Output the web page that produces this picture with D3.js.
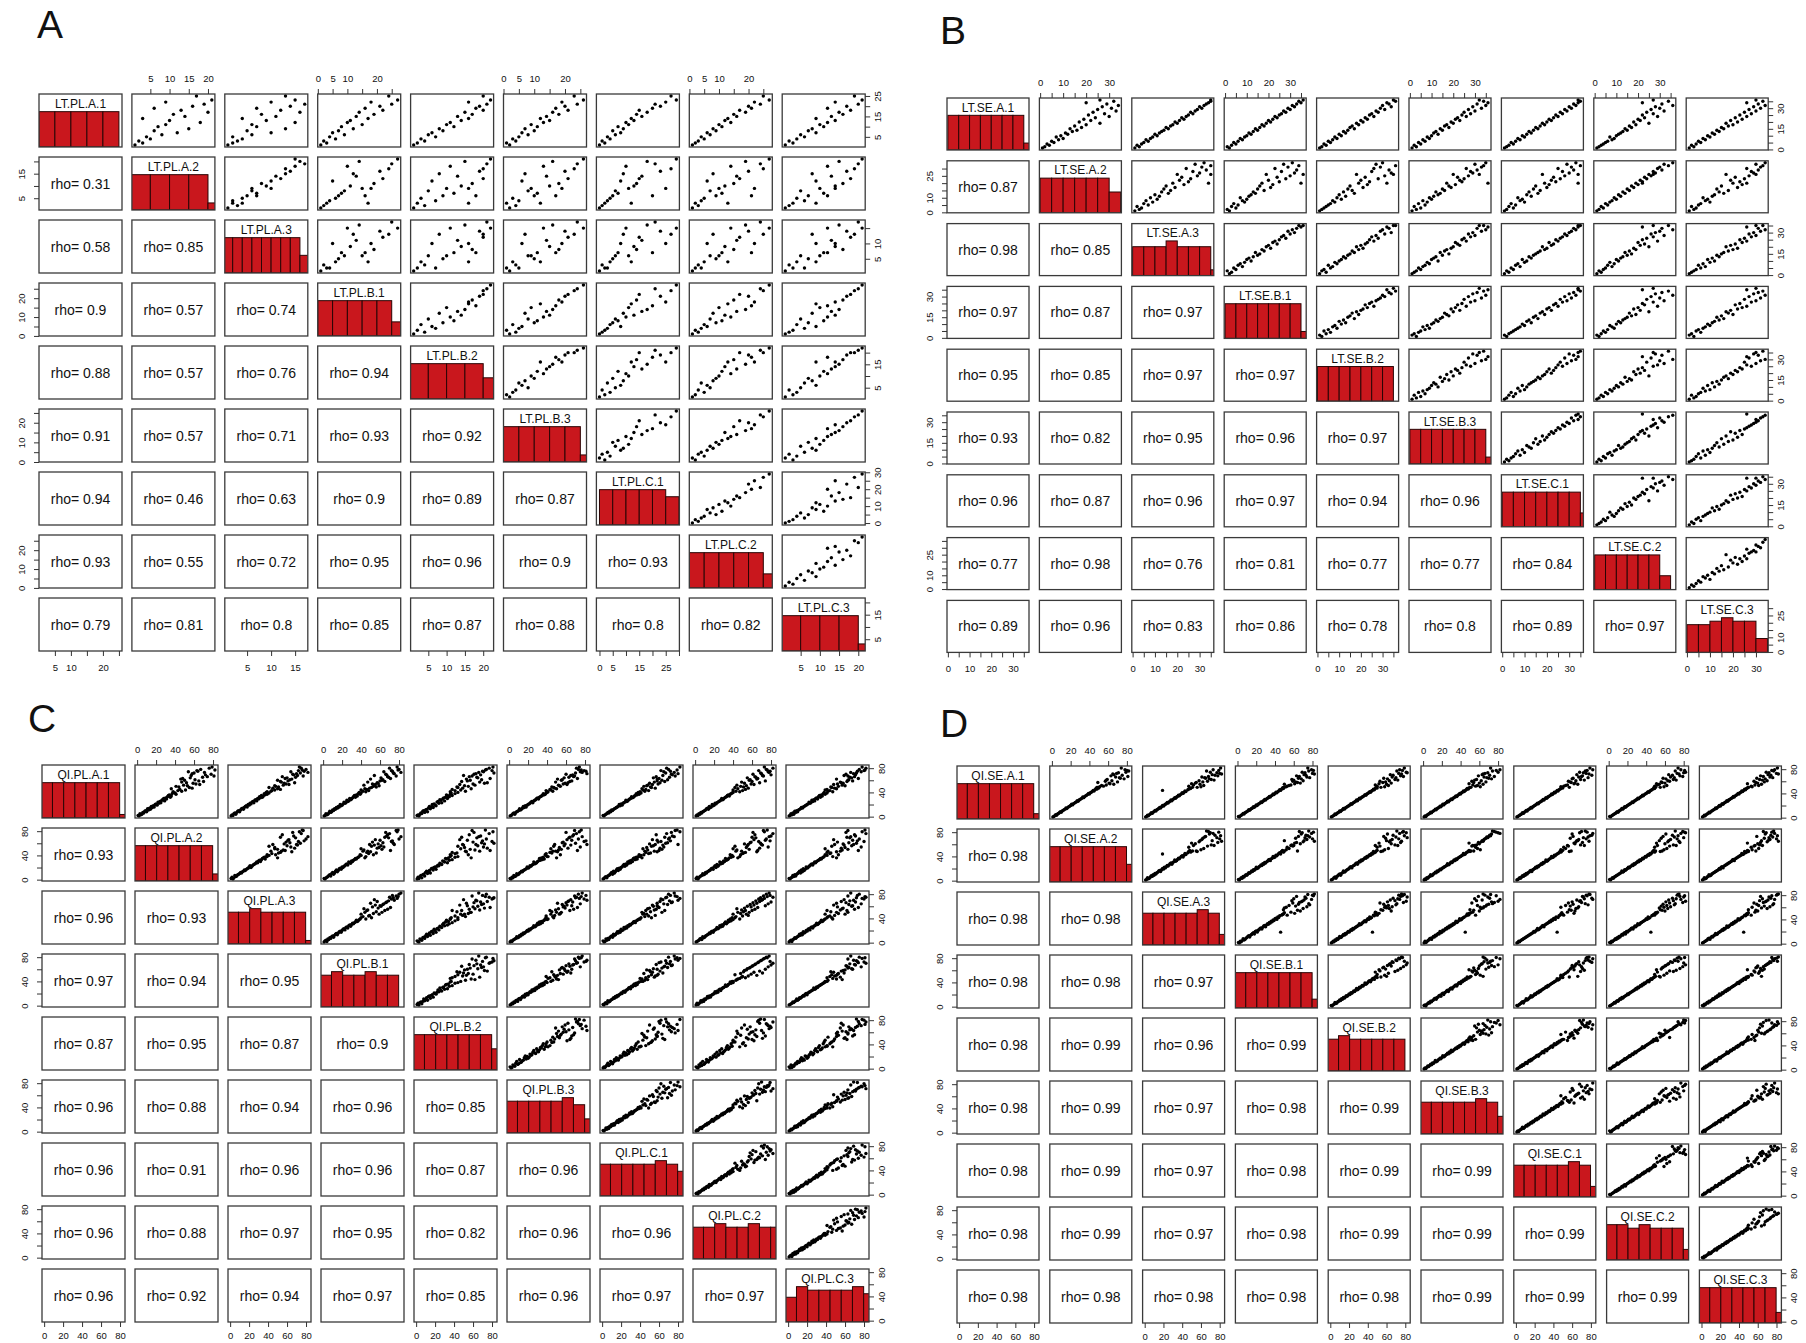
<!DOCTYPE html>
<html>
<head>
<meta charset="utf-8">
<script src="https://cdn.jsdelivr.net/npm/d3@7"></script>
<style>
  body { margin: 0; background: #fff; }
  svg text { font-family: "Liberation Sans", Arial, Helvetica, sans-serif; fill: #111; }
</style>
</head>
<body>
<svg id="chart" width="1806" height="1343"></svg>
<script>
// ---------------- Panel A : LT.PL ----------------
const namesA = ["LT.PL.A.1","LT.PL.A.2","LT.PL.A.3","LT.PL.B.1","LT.PL.B.2","LT.PL.B.3","LT.PL.C.1","LT.PL.C.2","LT.PL.C.3"];
const A1 = [1,2,3,4,5,6,7,8,9,10,11,12,13,14,15,16,17,18,19,20,21,22,23,25];
const A2 = [1,3,2,5,4,8,12,6,15,7,9,18,10,3,14,11,20,13,6,16,19,9,21,17];
const A3 = [1,2,3,4,2,6,10,5,13,7,6,15,9,4,11,8,16,12,7,14,17,10,15,13];
const A4 = [1,3,2,6,4,9,5,7,12,8,15,10,11,17,13,19,14,22,16,21,25,18,27,24];
const A5 = [1,2,4,3,7,5,6,9,8,12,10,11,14,16,13,17,15,20,18,19,21,16,22,20];
const A6 = [2,1,4,3,5,8,6,10,7,11,9,13,15,12,14,18,16,21,17,20,24,19,26,23];
const A7 = [0,2,1,4,3,6,8,5,9,7,11,10,13,12,16,14,18,15,20,23,21,25,29,27];
const A8 = [1,2,3,5,4,7,6,9,8,11,10,14,12,13,16,15,19,17,21,20,24,22,27,25];
const A9 = [1,3,2,4,6,5,9,7,8,11,10,12,14,9,13,16,15,18,12,17,20,14,21,19];
const rhoA = [
  [0.31],
  [0.58,0.85],
  [0.9,0.57,0.74],
  [0.88,0.57,0.76,0.94],
  [0.91,0.57,0.71,0.93,0.92],
  [0.94,0.46,0.63,0.9,0.89,0.87],
  [0.93,0.55,0.72,0.95,0.96,0.9,0.93],
  [0.79,0.81,0.8,0.85,0.87,0.88,0.8,0.82]
];
const ticksA = [[5,10,15,20,25],[5,10,15,20],[5,10,15],[0,5,10,15,20,25],[5,10,15,20],[0,5,10,15,20,25],[0,5,10,15,20,25,30],[0,5,10,15,20,25],[5,10,15,20]];
const hLabA = [[5,10,20],[5,10,15,20],[5,10,15],[0,5,10,20],[5,10,15,20],[0,5,10,20],[0,5,15,25],[0,5,10,20],[5,10,15,20]];
const vLabA = [[5,15,25],[5,15],[5,10],[0,10,20],[5,15],[0,10,20],[0,10,20,30],[0,10,20],[5,15]];
const histStartA = [0,0,0,0,0,0,0,0,0];
const histWidthA = [5,5,2,5,5,5,5,5,5];
const histCountsA = [[5,5,5,5,5],[5,5,5,5,1],[2,2,2,2,2,2,2,2,1],[5,5,5,5,5,2],[5,5,5,5,3],[5,5,5,5,5,1],[5,5,5,5,5,4],[5,5,5,5,5,2],[5,5,5,5,1]];

// ---------------- Panel B : LT.SE ----------------
const namesB = ["LT.SE.A.1","LT.SE.A.2","LT.SE.A.3","LT.SE.B.1","LT.SE.B.2","LT.SE.B.3","LT.SE.C.1","LT.SE.C.2","LT.SE.C.3"];
const B1 = [1,2,3,4,5,6,7,8,9,10,11,12,13,14,15,16,17,18,19,20,21,22,23,24,25,26,27,28,29,30,31,32,33,34,35,36];
const B2 = [1,2,4,3,6,5,8,10,7,9,12,11,14,16,13,18,15,20,26,17,22,19,24,30,21,28,23,33,25,31,27,34,29,20,32,26];
const B3 = [1,3,2,4,5,7,6,8,9,11,10,12,13,14,16,15,17,18,20,19,21,23,22,24,25,27,26,28,29,31,30,32,33,34,35,35];
const B4 = [2,1,3,5,4,6,8,7,9,10,12,11,13,15,14,16,18,17,19,21,20,22,24,23,25,26,28,27,30,29,32,31,33,35,34,36];
const B5 = [1,2,4,3,6,5,7,9,8,11,10,13,12,14,17,15,16,19,18,21,20,23,22,26,24,25,28,27,31,29,34,30,33,32,36,35];
const B6 = [1,3,2,5,4,7,6,9,8,10,13,11,12,15,14,18,16,17,20,19,23,21,22,26,24,28,25,30,27,33,29,35,31,36,34,32];
const B7 = [1,2,3,5,4,6,8,7,10,9,11,13,12,14,16,15,17,19,18,20,22,21,23,25,24,27,26,29,28,31,30,33,32,34,35,34];
const B8 = [1,2,3,4,5,6,8,9,7,10,11,12,13,15,14,17,16,19,25,18,21,20,23,29,22,27,24,32,26,30,28,36,31,22,34,27];
const B9 = [1,3,2,4,6,5,8,7,10,9,12,11,14,13,16,15,18,20,17,22,19,24,21,26,23,28,25,30,27,32,29,34,31,26,33,30];
const rhoB = [
  [0.87],
  [0.98,0.85],
  [0.97,0.87,0.97],
  [0.95,0.85,0.97,0.97],
  [0.93,0.82,0.95,0.96,0.97],
  [0.96,0.87,0.96,0.97,0.94,0.96],
  [0.77,0.98,0.76,0.81,0.77,0.77,0.84],
  [0.89,0.96,0.83,0.86,0.78,0.8,0.89,0.97]
];
const t35 = [0,5,10,15,20,25,30,35];
const t30 = [0,5,10,15,20,25,30];
const ticksB = [t35,t30,t35,t35,t35,t35,t35,t35,t30];
const hLabB = [[0,10,20,30],[0,10,20,30],[0,10,20,30],[0,10,20,30],[0,10,20,30],[0,10,20,30],[0,10,20,30],[0,10,20,30],[0,10,20,30]];
const vLabB = [[0,15,30],[0,10,25],[0,15,30],[0,15,30],[0,15,30],[0,15,30],[0,15,30],[0,10,25],[0,10,25]];
const histStartB = [0,0,0,0,0,0,0,0,0];
const histWidthB = [5,5,5,5,5,5,5,5,5];
const histCountsB = [[5,5,5,5,5,5,5,1],[5,5,5,5,5,5,3],[5,5,5,6,5,5,5,1],[5,5,5,5,5,5,5,1],[5,5,5,5,5,5,5],[5,5,5,5,5,5,5,1],[5,5,5,5,5,5,5,2],[5,5,5,5,5,5,2],[8,8,9,10,9,9,4]];

// ---------------- Panel C : QI.PL ----------------
const namesC = ["QI.PL.A.1","QI.PL.A.2","QI.PL.A.3","QI.PL.B.1","QI.PL.B.2","QI.PL.B.3","QI.PL.C.1","QI.PL.C.2","QI.PL.C.3"];
const C1 = [1,2,3,5,4,6,7,9,8,10, 11,13,12,14,15,17,16,18,20,19, 21,22,24,23,25,27,26,28,30,29, 31,33,32,35,34,36,38,37,40,39, 42,41,44,43,46,48,45,50,47,52, 49,54,51,57,53,60,55,62,58,64, 56,66,61,68,63,70,59,72,65,74, 67,76,69,78,71,80,73,82,75,77];
const C2 = [2,1,4,3,5,7,6,8,10,9, 12,11,14,13,16,15,18,17,19,21, 20,23,22,25,24,26,29,27,28,31, 30,32,35,33,36,34,37,41,38,40, 47,38,51,43,36,55,45,41,58,49, 44,62,53,47,66,50,59,46,70,56, 52,74,61,57,48,78,65,60,69,54, 81,63,72,67,58,76,71,79,64,82];
const C3 = [1,3,2,4,6,5,7,8,10,9, 11,12,14,13,15,16,18,17,19,20, 22,21,23,25,24,26,28,27,29,30, 32,31,34,33,35,37,36,39,38,41, 43,39,47,44,50,41,53,48,45,56, 51,59,47,54,62,50,57,65,53,60, 68,55,63,71,58,66,61,74,69,64, 77,72,67,80,70,75,82,73,78,76];
const C4 = [1,2,4,3,5,6,8,7,9,11, 10,12,13,15,14,16,17,19,18,20, 21,23,22,24,26,25,27,29,28,30, 31,32,34,33,36,35,37,39,38,40, 42,45,40,48,44,51,46,53,49,43, 56,52,59,47,55,62,58,50,65,61, 57,68,63,54,71,66,60,74,69,64, 77,72,67,80,75,70,82,78,73,79];
const C5 = [3,1,2,6,4,5,9,7,12,8, 10,15,11,13,18,14,16,21,17,20, 19,24,22,27,23,26,30,25,33,28, 29,35,31,38,34,32,41,36,44,37, 52,36,47,41,58,44,38,55,49,62, 43,60,51,67,46,57,72,53,48,65, 75,56,69,50,78,61,54,82,64,71, 59,80,68,74,63,77,66,81,70,73];
const C6 = [1,2,3,4,6,5,7,9,8,10, 12,11,13,14,16,15,18,17,20,19, 21,22,23,25,24,27,26,28,29,31, 30,33,32,35,34,37,36,38,40,39, 46,41,44,39,50,47,43,54,48,52, 45,57,53,49,61,55,59,51,64,58, 62,68,56,65,72,60,66,70,63,75, 69,79,67,73,82,71,77,74,81,76];
const C7 = [2,1,3,5,4,7,6,8,9,11, 10,13,12,14,15,17,16,19,18,21, 20,22,24,23,26,25,27,28,30,29, 32,31,33,35,34,37,36,39,38,41, 45,40,43,49,42,52,46,44,56,48, 51,59,47,55,53,63,50,58,66,54, 61,57,69,64,60,73,58,67,71,65, 77,62,74,70,80,68,76,82,72,79];
const C8 = [1,3,2,4,5,7,6,9,8,10, 11,12,14,13,16,15,17,19,18,20, 22,21,24,23,25,27,26,29,28,30, 31,33,32,34,36,35,38,37,40,39, 43,47,40,50,45,42,53,48,56,44, 51,59,54,49,62,57,52,65,60,55, 68,63,58,71,66,61,74,69,64,77, 72,67,80,75,70,82,78,73,79,76];
const C9 = [1,2,4,3,6,5,8,7,10,9, 11,13,12,15,14,17,16,18,20,19, 21,23,22,24,26,25,28,27,29,31, 30,32,34,33,36,35,37,39,38,41, 42,47,39,44,51,46,41,53,49,57, 45,52,60,55,48,63,58,51,62,67, 56,70,64,59,74,61,68,72,65,77, 63,80,71,75,69,82,66,78,73,81];
const rhoC = [
  [0.93],
  [0.96,0.93],
  [0.97,0.94,0.95],
  [0.87,0.95,0.87,0.9],
  [0.96,0.88,0.94,0.96,0.85],
  [0.96,0.91,0.96,0.96,0.87,0.96],
  [0.96,0.88,0.97,0.95,0.82,0.96,0.96],
  [0.96,0.92,0.94,0.97,0.85,0.96,0.97,0.97]
];
const t80 = [0,20,40,60,80];
const ticksC = [t80,t80,t80,t80,t80,t80,t80,t80,t80];
const hLabC = [t80,t80,t80,t80,t80,t80,t80,t80,t80];
const vLabC = [[0,40,80],[0,40,80],[0,40,80],[0,40,80],[0,40,80],[0,40,80],[0,40,80],[0,40,80],[0,40,80]];
const histStartC = [-3,-3,-3,-3,-3,-3,-3,-3,-3];
const histWidthC = [11.8,11.8,11.8,11.8,11.8,11.8,11.8,11.8,11.8];
const histCountsC = [[10,10,10,10,10,10,10,1],[10,10,10,10,10,10,10,2],[9,9,10,9,9,9,9,1],[9,10,9,9,10,9,9],[10,10,10,10,10,10,10,6],[9,9,9,9,9,10,8,4],[9,9,9,9,9,10,9,7],[9,9,10,9,9,10,9,9],[7,10,9,9,9,9,10,8]];

// ---------------- Panel D : QI.SE ----------------
const namesD = ["QI.SE.A.1","QI.SE.A.2","QI.SE.A.3","QI.SE.B.1","QI.SE.B.2","QI.SE.B.3","QI.SE.C.1","QI.SE.C.2","QI.SE.C.3"];
const D1 = [1,2,3,4,5,6,7,8,9,10, 11,12,13,14,15,16,17,18,19,20, 21,22,23,24,25,26,27,28,29,30, 31,32,33,34,35,36,37,38,39,40, 41,42,43,44,45,46,47,48,49,50, 52,50,54,51,56,53,58,55,60,57, 59,63,61,65,62,67,64,69,66,71, 68,73,70,75,72,77,74,79,82,78];
const D2 = [1,2,3,5,4,6,7,8,10,9, 11,12,13,14,16,15,17,18,19,20, 22,21,23,24,25,26,28,27,29,30, 31,32,34,33,35,36,37,38,40,39, 41,42,43,45,44,46,48,47,50,49, 55,48,58,51,62,53,49,66,57,61, 70,59,64,73,58,68,77,63,72,66, 81,69,75,79,65,82,71,78,74,80];
const D3 = [1,2,4,3,5,6,8,7,9,10, 12,11,13,14,15,17,16,18,20,19, 21,22,23,25,24,26,27,29,28,30, 31,33,32,34,35,37,36,38,39,41, 40,42,44,43,19,46,47,49,48,51, 47,56,52,60,50,63,55,59,67,54, 62,71,58,65,74,61,69,78,64,72, 68,80,75,70,82,66,77,73,81,79];
const D4 = [2,1,3,4,5,7,6,8,9,10, 11,13,12,14,15,16,18,17,19,21, 20,22,23,24,26,25,27,28,30,29, 31,32,33,35,34,36,37,39,38,40, 42,41,43,44,46,45,47,49,48,50, 53,49,57,52,61,55,64,50,59,67, 62,58,70,65,60,74,68,63,77,71, 66,80,73,69,82,76,72,79,75,81];
const D5 = [1,2,3,4,6,5,7,8,9,11, 10,12,13,15,14,16,17,18,19,20, 21,23,22,24,25,26,27,29,28,30, 32,31,33,34,35,36,38,37,39,40, 41,43,42,44,45,47,46,48,50,49, 50,54,48,58,52,62,56,60,53,65, 59,69,63,57,72,66,61,75,70,64, 78,73,67,81,76,71,82,74,79,77];
const D6 = [1,3,2,4,5,6,7,9,8,10, 11,12,14,13,15,16,17,19,18,20, 22,21,23,24,25,27,26,28,29,31, 30,32,33,34,36,35,37,38,40,39, 41,42,44,43,45,46,48,47,49,51, 56,50,53,61,49,58,54,64,52,60, 67,57,62,70,55,65,73,59,68,63, 76,66,71,80,64,74,69,82,72,78];
const D7 = [1,2,3,4,5,6,8,7,9,10, 12,11,13,14,15,17,16,18,19,20, 21,22,24,23,25,26,27,28,30,29, 31,33,32,34,35,36,37,39,38,40, 42,41,43,45,44,46,47,48,50,49, 51,57,55,48,62,53,59,66,56,63, 58,69,64,61,73,67,60,71,77,65, 70,75,81,68,78,74,72,82,79,76];
const D8 = [2,1,3,4,5,6,7,8,10,9, 11,12,13,15,14,16,18,17,19,20, 21,22,23,24,26,25,27,28,29,30, 32,31,33,34,35,37,36,38,39,40, 41,43,42,44,45,46,47,49,48,50, 49,55,52,59,51,62,57,54,65,60, 56,69,63,58,72,66,61,76,70,64, 79,73,68,82,75,71,80,77,74,81];
const D9 = [1,2,4,3,5,6,7,9,8,10, 11,12,13,14,16,15,17,18,20,19, 21,23,22,24,25,26,28,27,29,30, 31,32,33,35,34,36,37,38,40,39, 41,42,44,43,45,47,46,48,49,50, 53,50,57,54,49,61,58,64,56,60, 67,62,70,59,65,73,68,63,76,71, 66,80,74,69,82,77,72,78,81,75];
const rhoD = [
  [0.98],
  [0.98,0.98],
  [0.98,0.98,0.97],
  [0.98,0.99,0.96,0.99],
  [0.98,0.99,0.97,0.98,0.99],
  [0.98,0.99,0.97,0.98,0.99,0.99],
  [0.98,0.99,0.97,0.98,0.99,0.99,0.99],
  [0.98,0.98,0.98,0.98,0.98,0.99,0.99,0.99]
];
const ticksD = ticksC, hLabD = hLabC, vLabD = vLabC;
const histStartD = histStartC, histWidthD = histWidthC;
const histCountsD = [[10,10,10,10,10,10,10,1.5],[10,10,10,10,10,10,10,5],[9,9,9,9,9,10,9,3],[10,10,10,10,10,10,10,2.5],[9,10,9,9,9,9,9],[9,9,9,9,9,10,9,5],[9,9,9,9,9,10,9,3],[10,10,9,10,9,9,9,3],[10,10,10,10,10,10,10,3]];

// ---------------- layout of the four matrices ----------------
const layoutA = { x0: 39,  y0: 94,  dx: 92.9, dy: 63,   w: 83, h: 53, lx: 37,  ly: 38,  bot: 20 };
const layoutB = { x0: 947, y0: 98,  dx: 92.4, dy: 62.8, w: 82, h: 52, lx: 940, ly: 44,  bot: 20 };
const layoutC = { x0: 42,  y0: 765, dx: 93,   dy: 63,   w: 83, h: 53, lx: 28,  ly: 732, bot: 16.5 };
const layoutD = { x0: 957, y0: 766, dx: 92.8, dy: 63,   w: 82, h: 53, lx: 940, ly: 737, bot: 16.5 };

const panels = [
  { letter: "A", names: namesA, values: [A1,A2,A3,A4,A5,A6,A7,A8,A9], rho: rhoA, ticks: ticksA, hLab: hLabA, vLab: vLabA, histS: histStartA, histW: histWidthA, histC: histCountsA, L: layoutA },
  { letter: "B", names: namesB, values: [B1,B2,B3,B4,B5,B6,B7,B8,B9], rho: rhoB, ticks: ticksB, hLab: hLabB, vLab: vLabB, histS: histStartB, histW: histWidthB, histC: histCountsB, L: layoutB },
  { letter: "C", names: namesC, values: [C1,C2,C3,C4,C5,C6,C7,C8,C9], rho: rhoC, ticks: ticksC, hLab: hLabC, vLab: vLabC, histS: histStartC, histW: histWidthC, histC: histCountsC, L: layoutC },
  { letter: "D", names: namesD, values: [D1,D2,D3,D4,D5,D6,D7,D8,D9], rho: rhoD, ticks: ticksD, hLab: hLabD, vLab: vLabD, histS: histStartD, histW: histWidthD, histC: histCountsD, L: layoutD }
];

const svg = d3.select("#chart");
const BOX = "#3a3a3a";
const BAR = "#c9171d";
let clipId = 0;

function fmtLab(list) { return d => list.includes(d) ? String(d) : ""; }

function styleAxis(g) {
  g.select(".domain").remove();
  g.selectAll(".tick line").attr("stroke", "#333").attr("stroke-width", 1);
  g.selectAll(".tick text").style("font-size", "9.5px").attr("fill", "#222");
}

function drawPanel(p) {
  const L = p.L, n = p.names.length;
  const root = svg.append("g");
  root.append("text").attr("x", L.lx).attr("y", L.ly).text(p.letter)
    .style("font-size", "39px");

  // one linear scale per variable, data range padded by 4% on each side
  const sx = [], sy = [];
  p.values.forEach(vals => {
    const [lo, hi] = d3.extent(vals);
    const pad = (hi - lo) * 0.04;
    sx.push(d3.scaleLinear().domain([lo - pad, hi + pad]).range([0, L.w]));
    sy.push(d3.scaleLinear().domain([lo - pad, hi + pad]).range([L.h, 0]));
  });
  const hy = d3.scaleLinear().domain([0, 1.5]).range([L.h, 0]);

  for (let i = 0; i < n; i++) {
    for (let j = 0; j < n; j++) {
      const cell = root.append("g")
        .attr("transform", `translate(${L.x0 + j * L.dx},${L.y0 + i * L.dy})`);
      cell.append("rect").attr("width", L.w).attr("height", L.h).attr("fill", "#fff");

      if (i < j) {
        // scatter: column variable on x, row variable on y
        const xs = p.values[j], ys = p.values[i];
        cell.selectAll("circle").data(d3.range(xs.length)).join("circle")
          .attr("cx", k => sx[j](xs[k]))
          .attr("cy", k => sy[i](ys[k]))
          .attr("r", 1.7)
          .attr("fill", "#000");
      } else if (i > j) {
        cell.append("text")
          .attr("x", L.w / 2).attr("y", L.h / 2).attr("dy", "0.36em")
          .attr("text-anchor", "middle")
          .style("font-size", "14px")
          .text("rho= " + p.rho[i - 1][j]);
      } else {
        // diagonal: histogram of the variable plus its name
        const id = "clip" + (clipId++);
        cell.append("clipPath").attr("id", id)
          .append("rect").attr("width", L.w).attr("height", L.h);
        const counts = p.histC[i], bw = p.histW[i], b0 = p.histS[i];
        const maxC = d3.max(counts);
        cell.append("g").attr("clip-path", `url(#${id})`)
          .selectAll("rect").data(counts).join("rect")
          .attr("x", (c, k) => sx[i](b0 + k * bw))
          .attr("width", (c, k) => sx[i](b0 + (k + 1) * bw) - sx[i](b0 + k * bw))
          .attr("y", c => hy(c / maxC))
          .attr("height", c => L.h - hy(c / maxC))
          .attr("fill", BAR)
          .attr("stroke", "#2a0505")
          .attr("stroke-width", 1);
        cell.append("text")
          .attr("x", L.w / 2).attr("y", L.h * 0.18).attr("dy", "0.36em")
          .attr("text-anchor", "middle")
          .style("font-size", "12px")
          .text(p.names[i]);
      }
      cell.append("rect").attr("width", L.w).attr("height", L.h)
        .attr("fill", "none").attr("stroke", BOX).attr("stroke-width", 1.3);

      // outer axes, alternating sides as in a pairs layout
      if (i === 0 && j % 2 === 1) {
        const ax = cell.append("g").call(d3.axisTop(sx[j]).tickValues(p.ticks[j])
          .tickSize(5).tickPadding(7).tickFormat(fmtLab(p.hLab[j])));
        styleAxis(ax);
      }
      if (i === n - 1 && j % 2 === 0) {
        const ax = cell.append("g").attr("transform", `translate(0,${L.h})`)
          .call(d3.axisBottom(sx[j]).tickValues(p.ticks[j])
          .tickSize(5).tickFormat(fmtLab(p.hLab[j])));
        styleAxis(ax);
        ax.selectAll(".tick text").attr("y", L.bot).attr("dy", null);
      }
      if (j === 0 && i % 2 === 1) {
        const ax = cell.append("g").call(d3.axisLeft(sy[i]).tickValues(p.ticks[i])
          .tickSize(5).tickFormat(fmtLab(p.vLab[i])));
        styleAxis(ax);
        ax.selectAll(".tick text").attr("x", null).attr("dy", null)
          .attr("text-anchor", "middle").attr("transform", "translate(-14,0) rotate(-90)");
      }
      if (j === n - 1 && i % 2 === 0) {
        const ax = cell.append("g").attr("transform", `translate(${L.w},0)`)
          .call(d3.axisRight(sy[i]).tickValues(p.ticks[i])
          .tickSize(5).tickFormat(fmtLab(p.vLab[i])));
        styleAxis(ax);
        ax.selectAll(".tick text").attr("x", null).attr("dy", null)
          .attr("text-anchor", "middle").attr("transform", "translate(16,0) rotate(-90)");
      }
    }
  }
}

panels.forEach(drawPanel);
</script>
</body>
</html>
